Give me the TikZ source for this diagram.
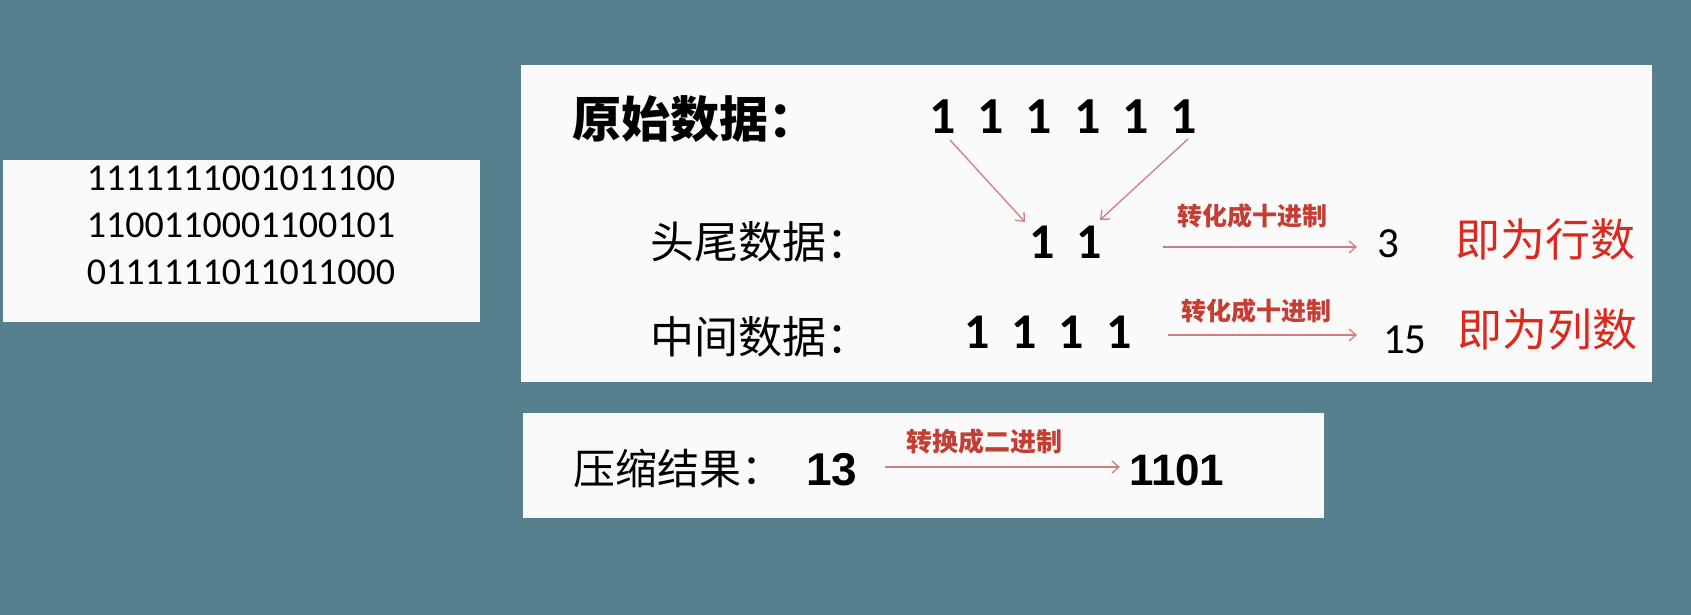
\documentclass[tikz,border=0pt]{standalone}
\usepackage{fontspec}
\usetikzlibrary{arrows.meta}
\newfontfamily\cjk{Noto Sans CJK SC}
\newfontfamily\carlito{Carlito}
\newfontfamily\libsans{Liberation Sans}
\definecolor{bgc}{RGB}{87,128,143}
\definecolor{boxc}{RGB}{250,250,250}
\definecolor{redt}{RGB}{218,42,32}
\definecolor{redl}{RGB}{196,62,52}
\definecolor{arrc}{RGB}{206,126,126}
\newcommand{\fs}[1]{\fontsize{#1}{#1}\selectfont}
\newcommand{\widesp}{\spaceskip 22pt\relax}
\tikzset{
  panel/.style={fill=boxc,draw=none},
  txt/.style={inner sep=0pt,outer sep=0pt,anchor=base west},
  redarrow/.style={draw=arrc,line width=1.3pt,-{Straight Barb[length=7pt,width=12pt,line width=1.3pt]}},
  cjkbold/.style={txt,font=\cjk\bfseries\fs{49}},
  cjkreg/.style={txt,font=\cjk\fs{44}},
  ones/.style={txt,font=\carlito\bfseries\fs{52}\widesp},
  onessm/.style={txt,font=\carlito\bfseries\fs{50}\widesp},
  redlabel/.style={txt,text=redl,font=\cjk\bfseries\fs{25}},
  redbig/.style={txt,text=redt,font=\cjk\fs{45}},
}
\begin{document}
\begin{tikzpicture}[x=1pt,y=-1pt]
\fill[bgc] (0,0) rectangle (1691,615);
\useasboundingbox (0,0) rectangle (1691,615);
% panels
\fill[panel] (3,160) rectangle (480,322);
\fill[panel] (521,65) rectangle (1652,382);
\fill[panel] (523,413) rectangle (1324,518);
% left panel text
\node[inner sep=0pt,anchor=base,font=\carlito\fs{38}] (l1) at (241,190.5) {1111111001011100};
\node[inner sep=0pt,anchor=base,font=\carlito\fs{38}] (l2) at (241,237.5) {1100110001100101};
\node[inner sep=0pt,anchor=base,font=\carlito\fs{38}] (l3) at (241,284.5) {0111111011011000};
% main panel
\node[cjkbold] (orig) at (572,138) {原始数据：};
\node[ones] (six) at (929,133) {1 1 1 1 1 1};
\node[cjkreg] (head) at (650,258) {头尾数据：};
\node[onessm] (two) at (1029,258) {1 1};
\node[cjkreg] (mid) at (650,353) {中间数据：};
\node[onessm] (four) at (964,348) {1 1 1 1};
\coordinate (s1) at (950,140);
\coordinate (s2) at (1188,139);
\coordinate (t1) at (1025,222);
\coordinate (t2) at (1100,220);
\draw[redarrow] (s1) -- (t1);
\draw[redarrow] (s2) -- (t2);
% row 1 conversion
\coordinate (a1s) at (1163,247);
\coordinate (a1e) at (1357,247);
\draw[redarrow] (a1s) -- (a1e);
\node[redlabel] (lab1) at (1177,225) {转化成十进制};
\node[txt,font=\carlito\fs{43}] (three) at (1377,257) {3};
\node[redbig] (rows) at (1455,256) {即为行数};
% row 2 conversion
\coordinate (a2s) at (1168,335);
\coordinate (a2e) at (1357,335);
\draw[redarrow] (a2s) -- (a2e);
\node[redlabel] (lab2) at (1181,320) {转化成十进制};
\node[txt,font=\carlito\fs{43}] (fifteen) at (1383,353) {15};
\node[redbig] (cols) at (1457,346) {即为列数};
% bottom panel
\node[txt,font=\cjk\fs{42}] (res) at (573,484) {压缩结果：};
\node[txt,font=\libsans\bfseries\fs{46}] (thirteen) at (806,485) {13};
\coordinate (a3s) at (885,467);
\coordinate (a3e) at (1120,467);
\draw[redarrow] (a3s) -- (a3e);
\node[redlabel,font=\cjk\bfseries\fs{26}] (lab3) at (906,451) {转换成二进制};
\node[txt,font=\libsans\bfseries\fs{44}] (bin) at (1129,485) {1101};
\end{tikzpicture}
\end{document}
